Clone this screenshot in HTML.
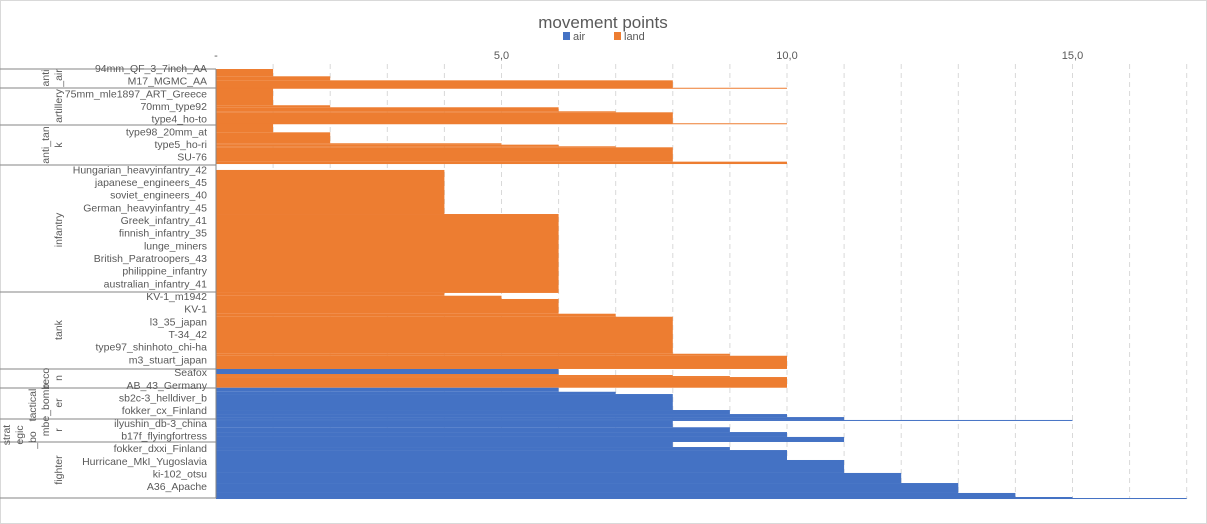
<!DOCTYPE html>
<html><head><meta charset="utf-8"><style>
body{margin:0;background:#fff}
svg{font-family:"Liberation Sans",sans-serif;display:block}
</style></head><body>
<svg id="c" width="1207" height="524" xmlns="http://www.w3.org/2000/svg">
<rect x="0.5" y="0.5" width="1206" height="523" fill="#fff" stroke="#d9d9d9"/>
<text x="603" y="28" text-anchor="middle" font-size="17" fill="#595959">movement points</text>
<g>
<rect x="563" y="32" width="7" height="8" fill="#4472c4"/>
<text x="573" y="40" font-size="11" fill="#595959">air</text>
<rect x="614" y="32" width="7" height="8" fill="#ed7d31"/>
<text x="624" y="40" font-size="11" fill="#595959">land</text>
</g>
<g id="grid"></g><g id="bars"></g><g id="axis"></g><g id="cats"></g>
</svg>
<script>
const tickValues=[0,5,10,15];
const tickLabels=["-","5,0","10,0","15,0"];
const units=["94mm_QF_3_7inch_AA","M17_MGMC_AA","75mm_mle1897_ART_Greece","70mm_type92","type4_ho-to","type98_20mm_at","type5_ho-ri","SU-76","Hungarian_heavyinfantry_42","japanese_engineers_45","soviet_engineers_40","German_heavyinfantry_45","Greek_infantry_41","finnish_infantry_35","lunge_miners","British_Paratroopers_43","philippine_infantry","australian_infantry_41","KV-1_m1942","KV-1","l3_35_japan","T-34_42","type97_shinhoto_chi-ha","m3_stuart_japan","Seafox","AB_43_Germany","sb2c-3_helldiver_b","fokker_cx_Finland","ilyushin_db-3_china","b17f_flyingfortress","fokker_dxxi_Finland","Hurricane_MkI_Yugoslavia","ki-102_otsu","A36_Apache"];
// bands: series (0 air,1 land), row start, row end, value
const bandSeries=[1,1,1,1, 1,1,1,1,1,1, 1,1,1,1,1,1,1, 1,1,1,1,1,1,1,1,1, 1,1,1,1, 0, 0,0,0,0,0,0,0,0,0,0,0,0,0,0,0,0,0,0,0,0,0];
const bandStart=[0,0.58,0.90,1.49, 1.53,2.88,3.04,3.36,3.44,4.31, 4.35,5.03,5.90,6.01,6.14,6.22,7.36, 8.02,11.52,17.79,18.01,18.27,19.44,19.68,22.62,22.78, 24.23,24.31,24.39,24.47, 23.83, 25.32,25.64,25.82,27.09,27.41,27.65,27.88,27.96,28.46,28.84,29.23,29.63,30.03,30.27,31.06,32.09,32.89,33.68,34.0,34.08];
const bandEnd=[0.58,0.90,1.53,1.56, 2.88,3.04,3.36,3.44,4.35,4.37, 5.03,5.90,6.01,6.14,6.22,7.36,7.55, 11.52,17.79,18.01,18.27,19.44,19.68,22.62,22.78,23.83, 24.31,24.39,24.47,25.32, 24.23, 25.64,25.82,27.09,27.41,27.65,27.88,27.96,28.46,28.84,29.23,29.63,30.03,30.27,31.06,32.09,32.89,33.68,34.0,34.08,34.16];
const bandValue=[1,2,8,10, 1,2,6,7,8,10, 1,2,5,6,7,8,10, 4,6,4,5,6,7,8,9,10, 6,8,9,10, 6, 6,7,8,9,10,11,15,8,9,10,11,8,9,10,11,12,13,14,15,17];
const colors=["#4472c4","#ed7d31"];
const X0=216,PX=57.1,Y0=69,RY=428/34;
const xs=v=>X0+v*PX, ys=r=>Y0+r*RY;
const NS="http://www.w3.org/2000/svg";
function mk(p,t,a){const e=document.createElementNS(NS,t);for(const k in a)e.setAttribute(k,a[k]);p.appendChild(e);return e;}
const grid=document.getElementById('grid');
for(let k=1;k<=17;k++){const l=mk(grid,'line',{x1:xs(k),x2:xs(k),y1:64,y2:499,stroke:'#d9d9d9','stroke-dasharray':'5,4'});

}
const bars=document.getElementById('bars');
for(let i=0;i<bandValue.length;i++){const h=Math.max(1,ys(bandEnd[i])-ys(bandStart[i]));
const r=mk(bars,'rect',{x:xs(0),y:ys(bandStart[i]),width:xs(bandValue[i])-xs(0),height:h,fill:colors[bandSeries[i]]});

}
const ax=document.getElementById('axis');
tickValues.forEach((v,i)=>{const t=mk(ax,'text',{x:xs(v),y:59,'text-anchor':'middle','font-size':11,fill:'#595959'});t.textContent=tickLabels[i];

});
const cats=document.getElementById('cats');
mk(cats,'line',{x1:216,x2:216,y1:69,y2:498,stroke:'#868686'});
[69,88,125,165,292,369,388,419,442,498].forEach(y=>{const l=mk(cats,'line',{x1:0,x2:216,y1:y,y2:y,stroke:'#868686'});

});
units.forEach((u,i)=>{const t=mk(cats,'text',{x:207,y:72+i*12.67,'text-anchor':'end','font-size':10.5,fill:'#595959'});t.textContent=u;

});
const groups=[["anti",49,78],["_air",62,78],["artillery",62,106],["anti_tan",49,145],["k",62,145],["infantry",62,230],["tank",62,330],["reco",49,378],["n",62,378],["er",62,403],["r",62,430],["fighter",62,470],["mbe_bomb",49,410],["tactical",36,405],["_bo",36,440],["egic",23,435],["strat",10,435]];
groups.forEach(g=>{const t=mk(cats,'text',{x:g[1],y:g[2],'text-anchor':'middle','font-size':10.5,fill:'#595959',transform:`rotate(-90 ${g[1]} ${g[2]})`});t.textContent=g[0];

});
</script>
</body></html>
